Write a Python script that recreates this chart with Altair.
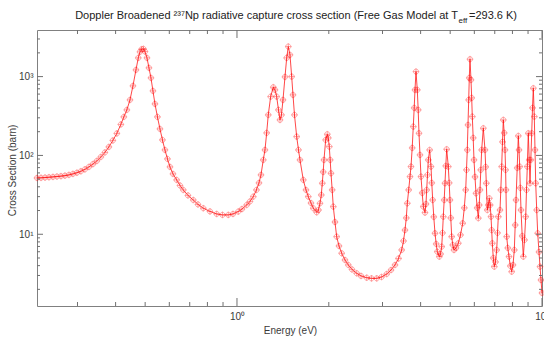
import altair as alt
import pandas as pd

# ---- data ----
energy_eV = [
    0.2210, 0.2278, 0.2348, 0.2419, 0.2493, 0.2569, 0.2648, 0.2729, 0.2812, 0.2898,
    0.2987, 0.3078, 0.3172, 0.3270, 0.3370, 0.3473, 0.3579, 0.3689, 0.3802, 0.3918,
    0.4038, 0.4162, 0.4257, 0.4355, 0.4459, 0.4560, 0.4665, 0.4747, 0.4808, 0.4870,
    0.4937, 0.4993, 0.5069, 0.5146, 0.5224, 0.5303, 0.5384, 0.5486, 0.5591, 0.5697,
    0.5806, 0.5917, 0.6030, 0.6168, 0.6343, 0.6503, 0.6667, 0.6907, 0.7189, 0.7450,
    0.7754, 0.8156, 0.8580, 0.8963, 0.9364, 0.9703, 1.0099, 1.0385, 1.0760, 1.1032,
    1.1309, 1.1584, 1.1806, 1.1986, 1.2196, 1.2353, 1.2513, 1.2664, 1.2897, 1.3152,
    1.3322, 1.3494, 1.3679, 1.3835, 1.3993, 1.4152, 1.4368, 1.4554, 1.4731, 1.4921,
    1.5113, 1.5263, 1.5436, 1.5695, 1.5910, 1.6091, 1.6497, 1.6837, 1.7131, 1.7484,
    1.7790, 1.8252, 1.8501, 1.8712, 1.8897, 1.9040, 1.9170, 1.9286, 1.9535, 1.9773,
    1.9922, 2.0073, 2.0210, 2.0333, 2.0518, 2.0689, 2.0956, 2.1227, 2.1599, 2.2044,
    2.2599, 2.3169, 2.3826, 2.4686, 2.5509, 2.6630, 2.7612, 2.8718, 2.9777, 3.0968,
    3.1990, 3.2970, 3.3853, 3.4674, 3.5148, 3.5549, 3.5899, 3.6172, 3.6556, 3.6917,
    3.7197, 3.7536, 3.7848, 3.8106, 3.8337, 3.8628, 3.9009, 3.9275, 3.9513, 3.9811,
    4.0112, 4.0477, 4.0814, 4.1341, 4.1655, 4.1876, 4.2129, 4.2384, 4.2835, 4.3258,
    4.3520, 4.3817, 4.4183, 4.4585, 4.4990, 4.5365, 4.6056, 4.6510, 4.6898, 4.7182,
    4.7467, 4.7791, 4.8081, 4.8372, 4.8702, 4.9294, 4.9630, 4.9930, 5.0233, 5.0575,
    5.0997, 5.1462, 5.2245, 5.3160, 5.4051, 5.4954, 5.5622, 5.6214, 5.6554, 5.6896,
    5.7198, 5.7501, 5.7762, 5.8068, 5.8508, 5.8819, 5.9087, 5.9489, 5.9849, 6.0303,
    6.0760, 6.1313, 6.1825, 6.2246, 6.2623, 6.3002, 6.3433, 6.4202, 6.5030, 6.5376,
    6.5673, 6.6171, 6.6672, 6.7177, 6.7634, 6.8045, 6.8405, 6.8716, 6.9237, 6.9762,
    7.0397, 7.1038, 7.1468, 7.1901, 7.2830, 7.3270, 7.3769, 7.4215, 7.4665, 7.5175,
    7.5630, 7.5973, 7.6203, 7.6606, 7.7246, 7.7949, 7.8720, 7.9556, 8.0341, 8.1134,
    8.1687, 8.2182, 8.2931, 8.3623, 8.4065, 8.4511, 8.4894, 8.5344, 8.6121, 8.6840,
    8.7630, 8.8428, 8.8963, 8.9502, 9.0180, 9.0794, 9.1345, 9.1898, 9.2524, 9.3084,
    9.3649, 9.4358, 9.4859, 9.5361, 9.6084, 9.6813, 9.7760, 9.8502, 9.9248, 10.0,
]

sigma_barn = [
    51.8, 52.0, 52.4, 52.9, 53.4, 54.0, 54.6, 55.4, 56.6, 58.3,
    60.3, 63.0, 66.6, 71.5, 77.6, 85.2, 95.7, 109.2, 128.2, 155.0,
    190.2, 247.4, 308.1, 377.9, 506.1, 762.1, 1216, 1727, 2058, 2227,
    2246, 2077, 1727, 1290, 962.7, 658.3, 450.3, 308.1, 216.9, 157.3,
    117.4, 90.3, 71.5, 58.3, 48.9, 41.6, 36.5, 31.1, 27.2, 23.9,
    21.4, 19.5, 18.1, 17.6, 17.6, 18.1, 19.4, 20.9, 23.5, 26.1,
    30.0, 36.5, 44.8, 56.6, 87.7, 117.4, 193.0, 326.6, 557.4, 733.6,
    678.1, 557.4, 377.9, 282.2, 326.6, 506.1, 991.3, 1727, 2403, 1886,
    1000, 586, 326.6, 173.2, 117.4, 87.7, 48.9, 36.5, 30.0, 24.9,
    21.4, 19.0, 20.3, 24.7, 31.5, 44.4, 61.7, 87.7, 157.3, 185.8,
    166.8, 129.3, 87.7, 59.4, 36.5, 22.4, 14.3, 9.32, 7.10, 5.74,
    4.72, 4.08, 3.58, 3.20, 2.96, 2.81, 2.76, 2.76, 2.87, 3.13,
    3.52, 4.08, 4.93, 6.32, 8.22, 11.3, 16.1, 24.7, 36.5, 53.8,
    72.1, 124.5, 232.0, 400.6, 678.1, 1157, 678.1, 377.9, 191.2, 101.5,
    53.8, 33.4, 22.4, 18.8, 24.2, 36.5, 56.6, 87.7, 117.4, 72.1,
    44.8, 27.2, 16.6, 10.3, 7.53, 6.01, 5.20, 5.62, 6.96, 10.4,
    16.7, 27.2, 44.4, 73.6, 119.8, 72.1, 44.8, 27.2, 16.1, 9.32,
    7.31, 6.32, 6.70, 7.69, 9.80, 13.8, 21.6, 36.5, 65.5, 117.4,
    243.8, 506.1, 962.7, 1663, 907.9, 536.6, 310.8, 166.8, 87.7, 53.4,
    33.1, 21.6, 16.0, 23.5, 36.5, 65.5, 117.4, 221.4, 117.4, 71.5,
    44.4, 20.3, 23.5, 28.6, 23.5, 16.7, 11.3, 7.69, 5.00, 3.88,
    4.45, 6.32, 10.4, 16.7, 20.3, 36.5, 72.1, 148.4, 282.2, 193.0,
    117.4, 65.5, 36.5, 9.32, 6.70, 5.20, 3.96, 3.35, 4.08, 6.32,
    13.1, 27.2, 69.4, 176.8, 117.4, 72.1, 38.7, 20.3, 9.51, 5.20,
    8.47, 16.7, 36.5, 72.1, 191.2, 87.7, 44.4, 87.7, 191.2, 400.6,
    712.5, 310.8, 117.4, 44.4, 20.3, 10.3, 5.96, 3.88, 2.63, 1.80,
]

x_major_ticks = [1, 10]
x_minor_ticks = [0.3, 0.4, 0.5, 0.6, 0.7, 0.8, 0.9, 2, 3, 4, 5, 6, 7, 8, 9]
y_major_ticks = [10, 100, 1000]
y_minor_ticks = [2, 3, 4, 5, 6, 7, 8, 9, 20, 30, 40, 50, 60, 70, 80, 90,
                 200, 300, 400, 500, 600, 700, 800, 900, 2000, 3000]

title_main = "Doppler Broadened \u00b2\u00b3\u2077Np radiative capture cross section (Free Gas Model at T"
title_sub = "eff"
title_end = "=293.6 K)"
x_title = "Energy (eV)"
y_title = "Cross Section (barn)"

# ---- layout ----
W, H = 505, 276
FONT = "Liberation Sans"
TXT = "#3a3a3a"
TICK = "#707070"
RED = "#ff1a1a"

xs = alt.Scale(type="log", domain=[0.221, 10], nice=False)
ys = alt.Scale(type="log", domain=[1.23, 3900], nice=False)

df = pd.DataFrame({"E": energy_eV, "sigma": sigma_barn})

x_axis = alt.Axis(
    values=x_major_ticks,
    labelExpr="datum.value == 1 ? '10\u2070' : '10\u00b9'",
    ticks=False, tickSize=0, domain=False, grid=False,
    labelFont=FONT, labelFontSize=10, labelColor=TXT, labelPadding=5,
    labelFlush=False, labelOverlap=False,
    title=x_title, titleFont=FONT, titleFontSize=10, titleFontWeight="normal",
    titleColor=TXT, titleX=253, titleY=27, titleBaseline="alphabetic",
)
y_axis = alt.Axis(
    values=y_major_ticks,
    labelExpr="datum.value == 10 ? '10\u00b9' : datum.value == 100 ? '10\u00b2' : '10\u00b3'",
    ticks=False, tickSize=0, domain=False, grid=False,
    labelFont=FONT, labelFontSize=10, labelColor=TXT, labelPadding=4,
    labelFlush=False, labelOverlap=False,
    title=y_title, titleFont=FONT, titleFontSize=10, titleFontWeight="normal",
    titleColor=TXT, titleX=-20, titleY=140,
)

base = alt.Chart(df)
line = base.mark_line(color=RED, strokeWidth=1, opacity=0.8).encode(
    x=alt.X("E:Q", scale=xs, axis=x_axis),
    y=alt.Y("sigma:Q", scale=ys, axis=y_axis),
)
marker_path = "M-1,0A1,1,0,1,1,1,0A1,1,0,1,1,-1,0M-1.3,0L1.3,0M0,-1.3L0,1.3"
points = base.mark_point(shape=marker_path, size=26, filled=False,
                         color="#ff0000", strokeWidth=0.8, opacity=0.45).encode(
    x=alt.X("E:Q", scale=xs),
    y=alt.Y("sigma:Q", scale=ys),
)


def xticks(vals, y0, y1):
    return alt.Chart(pd.DataFrame({"E": vals})).mark_rule(color=TICK, strokeWidth=1).encode(
        x=alt.X("E:Q", scale=xs), y=alt.value(y0), y2=alt.value(y1))


def yticks(vals, x0, x1):
    return alt.Chart(pd.DataFrame({"sigma": vals})).mark_rule(color=TICK, strokeWidth=1).encode(
        y=alt.Y("sigma:Q", scale=ys), x=alt.value(x0), x2=alt.value(x1))


ticks = [
    xticks(x_minor_ticks, H, H - 4), xticks(x_major_ticks, H, H - 8),
    xticks(x_minor_ticks, 0, 4), xticks(x_major_ticks, 0, 8),
    yticks(y_minor_ticks, 0, 3), yticks(y_major_ticks, 0, 6),
    yticks(y_minor_ticks, W, W - 3), yticks(y_major_ticks, W, W - 6),
]


def text(s, x, y, size, align):
    return alt.Chart(pd.DataFrame({"t": [s]})).mark_text(
        font=FONT, fontSize=size, color="#222222", align=align, baseline="alphabetic"
    ).encode(text="t:N", x=alt.value(x), y=alt.value(y))


TX = 421
titles = [
    text(title_main, TX, -11, 11, "right"),
    text(title_sub, TX + 0.5, -7, 8, "left"),
    text(title_end, TX + 11, -11, 11, "left"),
]

chart = alt.layer(line, points, *ticks, *titles).properties(
    width=W, height=H,
    padding={"left": 37, "top": 30, "right": 2, "bottom": 32},
    autosize=alt.AutoSizeParams(type="none"),
    background="white",
).configure_view(stroke="#808080", strokeWidth=1)

chart.save("out.html", embed_options={"renderer": "svg", "actions": False})
